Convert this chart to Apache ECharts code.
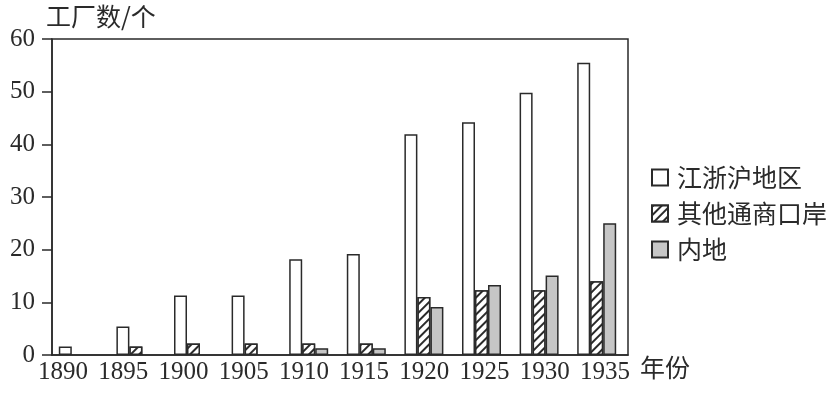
<!DOCTYPE html>
<html>
<head>
<meta charset="utf-8">
<script src="https://cdn.jsdelivr.net/npm/echarts@6/dist/echarts.min.js"></script>
<style>html,body{margin:0;padding:0;background:#fff}#c{width:840px;height:395px}</style>
</head>
<body>
<div id="c"></div>
<script>
var years = ['1890','1895','1900','1905','1910','1915','1920','1925','1930','1935'];
var jiangZheHu = [1.6, 5.4, 11.3, 11.3, 18.2, 19.2, 41.9, 44.2, 49.8, 55.5];
var otherPorts = [null, 1.6, 2.2, 2.2, 2.2, 2.2, 11.0, 12.3, 12.3, 14.0];
var inland = [null, null, null, null, 1.3, 1.3, 9.1, 13.3, 15.1, 25.0];
var seriesNames = ['江浙沪地区', '其他通商口岸', '内地'];
var yTicks = {min: 0, max: 60, interval: 10};

var serif = '"Liberation Serif", "Times New Roman", serif';
var cjk = '"Noto Sans CJK SC", sans-serif';
var ink = '#2a2a2a';

var chart = echarts.init(document.getElementById('c'), null, {renderer: 'canvas'});
var border = {borderColor: ink, borderWidth: 1.5};
chart.setOption({
  animation: false,
  title: {
    text: '工厂数/个', left: 41, top: -1,
    textStyle: {fontFamily: cjk, fontSize: 25, fontWeight: 'normal', color: ink}
  },
  legend: {
    data: seriesNames, icon: 'rect',
    orient: 'vertical', left: 646, top: 160,
    itemWidth: 16, itemHeight: 16, itemGap: 11,
    textStyle: {fontFamily: cjk, fontSize: 25, color: ink, padding: [0, 0, 0, 4]}
  },
  grid: [
    {left: 52, right: 212, top: 39, bottom: 40, show: true, borderColor: ink, borderWidth: 1.5, backgroundColor: 'transparent'},
    {left: 63, right: 235, top: 39, bottom: 40}
  ],
  xAxis: [
    {type: 'category', gridIndex: 0, data: years,
     axisLine: {lineStyle: {color: ink, width: 1.5}}, axisTick: {show: false}, axisLabel: {show: false}},
    {type: 'category', gridIndex: 1, data: years, boundaryGap: false,
     axisLine: {show: false}, axisTick: {show: false},
     axisLabel: {fontFamily: serif, fontSize: 25, color: ink, margin: 5, interval: 0},
     name: '年份', nameLocation: 'end', nameGap: 35,
     nameTextStyle: {fontFamily: cjk, fontSize: 25, color: ink, verticalAlign: 'top', padding: [0, 0, 0, 0]}}
  ],
  yAxis: [
    {type: 'value', gridIndex: 0, min: yTicks.min, max: yTicks.max, interval: yTicks.interval,
     axisLine: {show: true, lineStyle: {color: ink, width: 1.5}},
     axisTick: {show: true, length: 10, lineStyle: {color: ink, width: 1.5}},
     axisLabel: {fontFamily: serif, fontSize: 25, color: ink, margin: 17},
     splitLine: {show: false}},
    {type: 'value', gridIndex: 1, show: false}
  ],
  series: [
    {name: seriesNames[0], type: 'bar', data: jiangZheHu, barWidth: 13, barGap: '0%',
     itemStyle: Object.assign({color: '#ffffff'}, border)},
    {name: seriesNames[1], type: 'bar', data: otherPorts, barWidth: 13, barGap: '0%',
     itemStyle: Object.assign({color: '#ffffff', decal: {
       symbol: 'rect', symbolSize: 1, color: ink, backgroundColor: '#ffffff',
       dashArrayX: [1, 0], dashArrayY: [1.5, 4], rotation: -Math.PI / 4
     }}, border)},
    {name: seriesNames[2], type: 'bar', data: inland, barWidth: 13, barGap: '0%',
     itemStyle: Object.assign({color: '#c6c6c6'}, border)},
    {name: 'spacer', type: 'bar', data: [], barWidth: 5, barGap: '0%', silent: true}
  ]
});
</script>
</body>
</html>
